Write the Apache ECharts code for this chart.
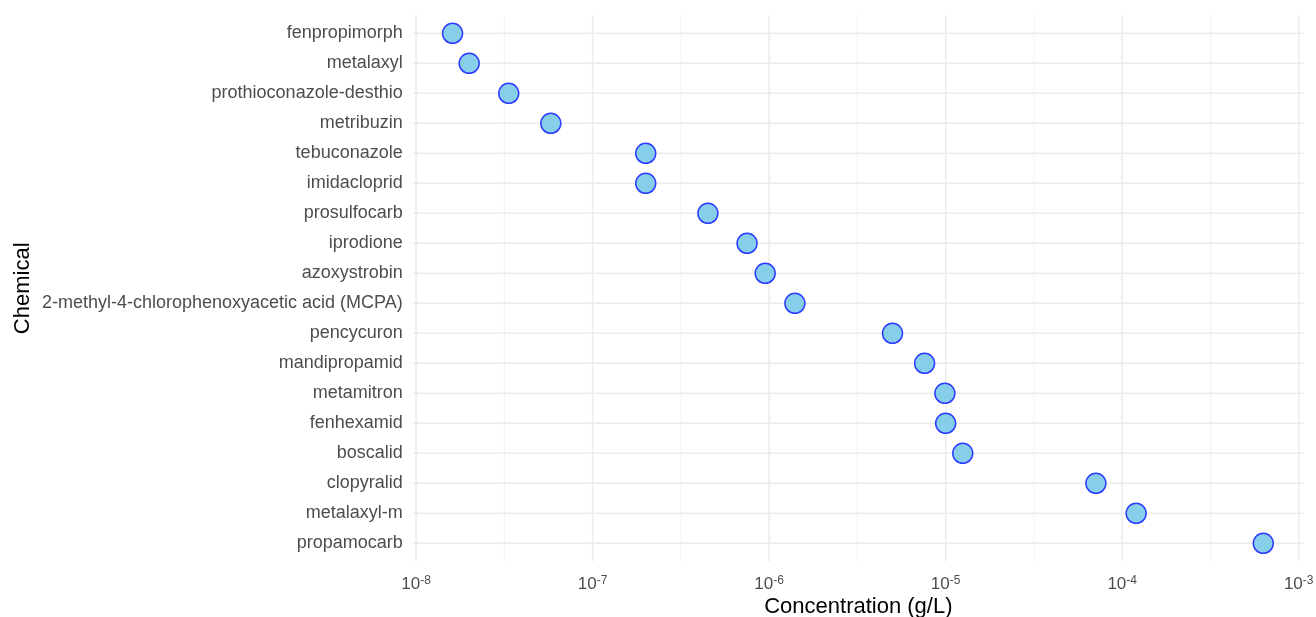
<!DOCTYPE html>
<html>
<head>
<meta charset="utf-8">
<title>Chemical concentrations</title>
<script src="https://cdn.jsdelivr.net/npm/echarts@6/dist/echarts.min.js"></script>
<style>
  html, body { margin: 0; padding: 0; background: #ffffff; }
  #chart { width: 1316px; height: 617px; }
</style>
</head>
<body>
<div id="chart"></div>
<script>
// Chemicals, listed from top to bottom of the chart
const categories = [
  'fenpropimorph',
  'metalaxyl',
  'prothioconazole-desthio',
  'metribuzin',
  'tebuconazole',
  'imidacloprid',
  'prosulfocarb',
  'iprodione',
  'azoxystrobin',
  '2-methyl-4-chlorophenoxyacetic acid (MCPA)',
  'pencycuron',
  'mandipropamid',
  'metamitron',
  'fenhexamid',
  'boscalid',
  'clopyralid',
  'metalaxyl-m',
  'propamocarb'
];

// Concentration of each chemical, g/L
const concentrations = [
  1.61e-8, 2.0e-8, 3.35e-8, 5.8e-8, 2.0e-7, 2.0e-7,
  4.5e-7, 7.5e-7, 9.5e-7, 1.4e-6, 5.0e-6, 7.6e-6,
  9.9e-6, 1.0e-5, 1.25e-5, 7.1e-5, 1.2e-4, 6.3e-4
];

// Decade breaks (labelled) and half-decade breaks (unlabelled)
const majorBreaks = [1e-8, 1e-7, 1e-6, 1e-5, 1e-4, 1e-3];
const minorBreaks = [
  Math.pow(10, -7.5), Math.pow(10, -6.5), Math.pow(10, -5.5),
  Math.pow(10, -4.5), Math.pow(10, -3.5)
];

const FONT = "'Liberation Sans', Arial, Helvetica, sans-serif";
const TEXT_GREY = '#4d4d4d';
const GRID_MAJOR = '#ebebeb';
const GRID_MINOR = '#f2f2f2';

const chart = echarts.init(document.getElementById('chart'), null, { renderer: 'canvas' });

// Vertical panel line at an x break; the panel extends a little beyond the outer rows
function verticalLine(color, width) {
  return function (params, api) {
    const cs = params.coordSys;
    const x = api.coord([api.value(0), 0])[0];
    const pad = 0.1 * cs.height / categories.length;
    return {
      type: 'line',
      silent: true,
      shape: { x1: x, y1: cs.y - pad, x2: x, y2: cs.y + cs.height + pad },
      style: { stroke: color, lineWidth: width }
    };
  };
}

// Horizontal panel line through a category row
function horizontalLine(params, api) {
  const cs = params.coordSys;
  const y = api.coord([majorBreaks[0], api.value(1)])[1];
  return {
    type: 'line',
    silent: true,
    shape: { x1: cs.x, y1: y, x2: cs.x + cs.width, y2: y },
    style: { stroke: GRID_MAJOR, lineWidth: 1.5 }
  };
}

chart.setOption({
  animation: false,
  backgroundColor: '#ffffff',
  textStyle: { fontFamily: FONT },
  grid: {
    left: 412.7, right: 12, top: 18.3, bottom: 58.7,
    containLabel: false,
    outerBoundsMode: 'none'
  },
  xAxis: {
    type: 'log',
    logBase: 10,
    min: Math.pow(10, -8.019),
    max: Math.pow(10, -2.970),
    name: 'Concentration (g/L)',
    nameLocation: 'middle',
    nameGap: 38,
    nameMoveOverlap: false,
    nameTextStyle: { fontFamily: FONT, fontSize: 22, color: '#000000' },
    axisLine: { show: false },
    axisTick: { show: false },
    splitLine: { show: false },
    minorSplitLine: { show: false },
    axisLabel: {
      margin: 16,
      formatter: function (v) {
        const lg = Math.log10(v);
        const e = Math.round(lg);
        if (Math.abs(lg - e) > 1e-6) return '';
        return '{b|10}{s|' + e + '}';
      },
      rich: {
        b: { fontFamily: FONT, fontSize: 17, color: TEXT_GREY, lineHeight: 20 },
        s: { fontFamily: FONT, fontSize: 12, color: TEXT_GREY, lineHeight: 8, verticalAlign: 'top' }
      }
    }
  },
  yAxis: {
    type: 'category',
    data: categories,
    inverse: true,
    name: 'Chemical',
    nameLocation: 'middle',
    nameGap: 379,
    nameMoveOverlap: false,
    nameTextStyle: { fontFamily: FONT, fontSize: 22, color: '#000000' },
    axisLine: { show: false },
    axisTick: { show: false },
    splitLine: { show: false },
    axisLabel: { fontFamily: FONT, fontSize: 18, color: TEXT_GREY, margin: 10 }
  },
  series: [
    {
      name: 'minor breaks',
      type: 'custom',
      silent: true,
      clip: false,
      z: 1,
      renderItem: verticalLine(GRID_MINOR, 1),
      data: minorBreaks.map(v => [v, 0])
    },
    {
      name: 'major breaks',
      type: 'custom',
      silent: true,
      clip: false,
      z: 2,
      renderItem: verticalLine(GRID_MAJOR, 1.5),
      data: majorBreaks.map(v => [v, 0])
    },
    {
      name: 'rows',
      type: 'custom',
      silent: true,
      clip: false,
      z: 2,
      renderItem: horizontalLine,
      data: categories.map((c, i) => [majorBreaks[0], i])
    },
    {
      name: 'Concentration',
      type: 'scatter',
      z: 5,
      symbol: 'circle',
      symbolSize: 20,
      itemStyle: { color: '#87ceeb', borderColor: '#2b3bff', borderWidth: 1.5, opacity: 1 },
      data: concentrations.map((v, i) => [v, categories[i]])
    }
  ]
});
</script>
</body>
</html>
